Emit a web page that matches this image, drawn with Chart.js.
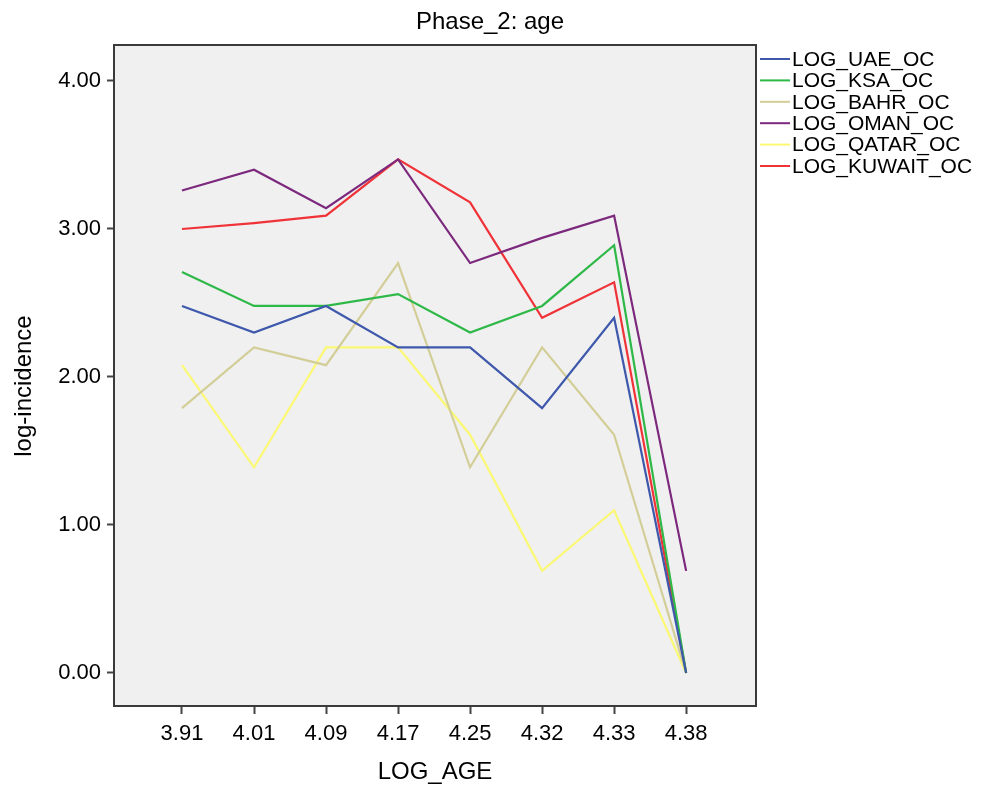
<!DOCTYPE html>
<html>
<head>
<meta charset="utf-8">
<script src="https://cdn.jsdelivr.net/npm/chart.js@4/dist/chart.umd.min.js"></script>
<style>
  body { margin: 0; background: #fff; }
  canvas { display: block; }
</style>
</head>
<body>
<canvas id="ageChart" width="983" height="788"></canvas>
<script>
const chartTitle = 'Phase_2: age';
const ageLabels = ['3.91', '4.01', '4.09', '4.17', '4.25', '4.32', '4.33', '4.38'];
const seriesNames = ['LOG_UAE_OC', 'LOG_KSA_OC', 'LOG_BAHR_OC', 'LOG_OMAN_OC', 'LOG_QATAR_OC', 'LOG_KUWAIT_OC'];
const uae    = [2.48, 2.30, 2.48, 2.20, 2.20, 1.79, 2.40, 0];
const ksa    = [2.71, 2.48, 2.48, 2.56, 2.30, 2.48, 2.89, 0];
const bahr   = [1.79, 2.20, 2.08, 2.77, 1.39, 2.20, 1.61, 0];
const oman   = [3.26, 3.40, 3.14, 3.47, 2.77, 2.94, 3.09, 0.69];
const qatar  = [2.08, 1.39, 2.20, 2.20, 1.61, 0.69, 1.10, 0];
const kuwait = [3.00, 3.04, 3.09, 3.47, 3.18, 2.40, 2.64, 0];
const yTicks = [0, 1, 2, 3, 4];
const colors = ['#3e58ac', '#2eb848', '#d3ce97', '#7c287d', '#fbf873', '#ef3338'];

const FONT = '"Liberation Sans", Arial, sans-serif';

// grey plot background, frame, title and legend
const frame = {
  id: 'frame',
  beforeDatasetsDraw(chart) {
    const { ctx, chartArea: a } = chart;
    ctx.save();
    ctx.fillStyle = '#f0f0f0';
    ctx.fillRect(a.left, a.top, a.right - a.left, a.bottom - a.top);
    ctx.restore();
  },
  afterDraw(chart) {
    const { ctx, chartArea: a } = chart;
    ctx.save();
    ctx.strokeStyle = '#3a3a3a';
    ctx.lineWidth = 2;
    ctx.strokeRect(a.left, a.top, a.right - a.left, a.bottom - a.top);

    ctx.fillStyle = '#000';
    ctx.font = '24px ' + FONT;
    ctx.textAlign = 'center';
    ctx.textBaseline = 'middle';
    ctx.fillText(chartTitle, 490, 22);

    // y axis title, a bit below the plot centre as in the original
    ctx.save();
    ctx.translate(24, 386);
    ctx.rotate(-Math.PI / 2);
    ctx.fillText('log-incidence', 0, 0);
    ctx.restore();

    // legend outside the plot
    ctx.font = '21px ' + FONT;
    ctx.textAlign = 'left';
    chart.data.datasets.forEach((ds, i) => {
      const y = 59 + i * 21.4;
      ctx.strokeStyle = ds.borderColor;
      ctx.lineWidth = 2;
      ctx.beginPath();
      ctx.moveTo(760, y);
      ctx.lineTo(790, y);
      ctx.stroke();
      ctx.fillText(ds.label, 792, y + 1);
    });
    ctx.restore();
  }
};

const allSeries = [uae, ksa, bahr, oman, qatar, kuwait];

new Chart(document.getElementById('ageChart'), {
  type: 'line',
  data: {
    datasets: allSeries.map((vals, i) => ({
      label: seriesNames[i],
      data: vals.map((v, j) => ({ x: j, y: v })),
      borderColor: colors[i],
      borderWidth: 2.2,
      pointRadius: 0,
      tension: 0,
      fill: false
    }))
  },
  options: {
    responsive: false,
    devicePixelRatio: 1,
    animation: false,
    layout: { padding: { top: 45, right: 227, left: 0, bottom: 0 } },
    plugins: { legend: { display: false }, title: { display: false }, tooltip: { enabled: false } },
    scales: {
      x: {
        type: 'linear',
        min: -0.944,
        max: 7.97,
        afterBuildTicks: s => { s.ticks = ageLabels.map((_, i) => ({ value: i })); },
        afterFit: s => { s.height = 82; },
        grid: { drawOnChartArea: false, tickLength: 8, tickColor: '#444', tickWidth: 2 },
        border: { display: false },
        ticks: {
          callback: v => ageLabels[v],
          color: '#000',
          font: { family: FONT, size: 22 },
          padding: 7,
          maxRotation: 0
        },
        title: {
          display: true,
          text: 'LOG_AGE',
          color: '#000',
          font: { family: FONT, size: 24 },
          padding: { top: 0, bottom: 1 }
        }
      },
      y: {
        min: -0.223,
        max: 4.243,
        afterBuildTicks: s => { s.ticks = yTicks.map(v => ({ value: v })); },
        afterFit: s => { s.width = 114; },
        grid: { drawOnChartArea: false, tickLength: 7, tickColor: '#444', tickWidth: 2 },
        border: { display: false },
        ticks: {
          callback: v => v.toFixed(2),
          color: '#000',
          font: { family: FONT, size: 22 },
          padding: 6
        }
      }
    }
  },
  plugins: [frame]
});
</script>
</body>
</html>
